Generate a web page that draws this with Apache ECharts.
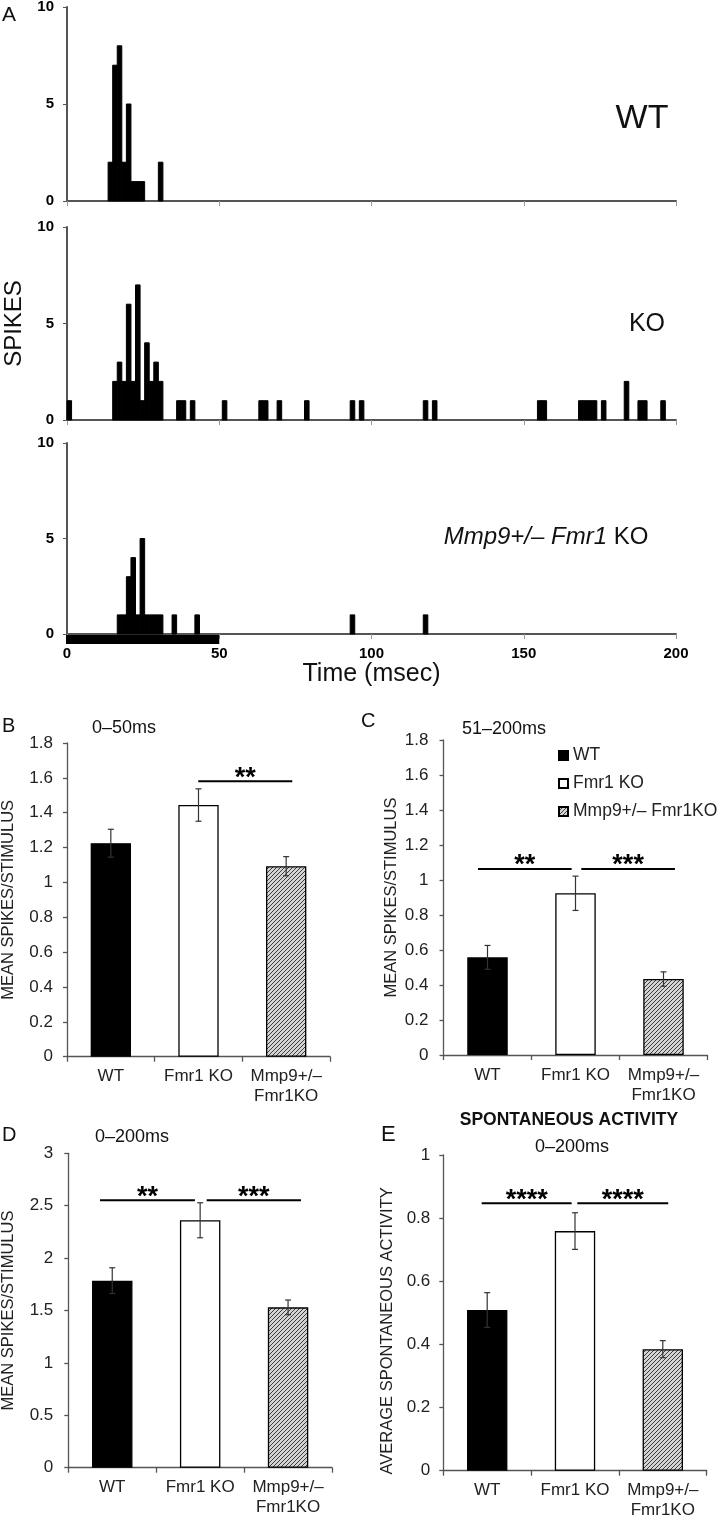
<!DOCTYPE html>
<html lang="en">
<head>
<meta charset="UTF-8">
<title>Spike histograms and mean spikes per stimulus</title>
<script src="https://cdn.jsdelivr.net/npm/echarts@6/dist/echarts.min.js"></script>
<style>html,body{margin:0;padding:0;background:#fff;}</style>
</head>
<body>
<div id="main" style="width:720px;height:1518px;"></div>
<script>
// PSTH bins, [bin start (ms), spikes]
const binWidth = 1.5;
const wtSpikes = [[13.5, 2], [15, 7], [16.5, 8], [18, 2], [19.5, 5], [21, 1], [22.5, 1], [24, 1], [30, 2]];
const koSpikes = [[0, 1], [15, 2], [16.5, 3], [18, 2], [19.5, 6], [21, 2], [22.5, 7], [24, 1], [25.5, 4],
  [27, 2], [28.5, 3], [30, 2], [36, 1], [37.5, 1], [40.5, 1], [51, 1], [63, 1], [64.5, 1], [69, 1],
  [78, 1], [93, 1], [96, 1], [117, 1], [120, 1], [154.5, 1], [156, 1], [168, 1], [169.5, 1], [171, 1],
  [172.5, 1], [175.5, 1], [183, 2], [187.5, 1], [189, 1], [195, 1]];
const mmpSpikes = [[16.5, 1], [18, 1], [19.5, 3], [21, 4], [22.5, 1], [24, 5], [25.5, 1], [27, 1],
  [28.5, 1], [30, 1], [34.5, 1], [42, 1], [93, 1], [117, 1]];
const stimulus = [[0, 50]];

// bar panels
const groups = ['WT', 'Fmr1 KO', 'Mmp9+/–\nFmr1KO'];
const legendNames = ['WT', 'Fmr1 KO', 'Mmp9+/– Fmr1KO'];
const earlyMean = [1.225, 1.444, 1.093];
const earlyErr = [0.08, 0.093, 0.055];
const lateMean = [0.558, 0.924, 0.434];
const lateErr = [0.068, 0.098, 0.041];
const totalMean = [1.785, 2.361, 1.53];
const totalErr = [0.123, 0.167, 0.07];
const spontMean = [0.509, 0.759, 0.385];
const spontErr = [0.055, 0.058, 0.027];
// significance bars: [from, to (category units), level, stars]
const earlySig = [[0.997, 2.07, 1.58, '**']];
const lateSig = [[-0.108, 0.956, 1.063, '**'], [1.066, 2.13, 1.063, '***']];
const totalSig = [[-0.139, 0.941, 2.551, '**'], [1.074, 2.147, 2.551, '***']];
const spontSig = [[-0.063, 0.962, 0.847, '****'], [1.026, 2.062, 0.847, '****']];

const FONT = 'Arial, "Liberation Sans", Helvetica, sans-serif';
const AXIS = '#555';

function hatch() {
  const c = document.createElement('canvas');
  c.width = 4; c.height = 4;
  const g = c.getContext('2d');
  g.fillStyle = '#d4d4d4';
  g.fillRect(0, 0, 4, 4);
  g.strokeStyle = '#3c3c3c';
  g.lineWidth = 1;
  g.beginPath();
  g.moveTo(0, 4); g.lineTo(4, 0);
  g.moveTo(-1, 1); g.lineTo(1, -1);
  g.moveTo(3, 5); g.lineTo(5, 3);
  g.stroke();
  return c;
}
const fills = ['#000', '#fff', { image: hatch(), repeat: 'repeat' }];

let myChart = echarts.init(document.getElementById('main'));

const grid = [], xAxis = [], yAxis = [], series = [];

// ---- panel A: three histograms ----
const histGrids = [
  { top: 7, height: 194, data: wtSpikes },
  { top: 227, height: 193, data: koSpikes },
  { top: 443, height: 191, data: mmpSpikes }
];
histGrids.forEach((h, k) => {
  grid.push({ left: 67, width: 609, top: h.top, height: h.height, outerBoundsMode: 'none' });
  xAxis.push({
    type: 'value', gridIndex: k, min: 0, max: 200, interval: 50,
    axisLine: { show: true, onZero: false, lineStyle: { color: AXIS, width: 2 } },
    axisTick: { show: true, length: 5, lineStyle: { color: '#999' } },
    axisLabel: { show: k === 2, fontWeight: 'bold', fontSize: 15, color: '#000', fontFamily: FONT, margin: 12 },
    splitLine: { show: false },
    name: k === 2 ? 'Time (msec)' : '',
    nameLocation: 'middle', nameGap: 28,
    nameTextStyle: { fontSize: 25, color: '#111', fontFamily: FONT }
  });
  yAxis.push({
    type: 'value', gridIndex: k, min: 0, max: 10, interval: 5,
    axisLine: { show: true, onZero: false, lineStyle: { color: AXIS, width: 2 } },
    axisTick: { show: true, length: 4, lineStyle: { color: AXIS } },
    axisLabel: { fontWeight: 'bold', fontSize: 15, color: '#000', fontFamily: FONT, margin: 13 },
    splitLine: { show: false },
    name: k === 1 ? 'SPIKES' : '',
    nameLocation: 'middle', nameGap: 40,
    nameTextStyle: { fontSize: 24, color: '#111', fontFamily: FONT }
  });
  series.push({
    type: 'custom', xAxisIndex: k, yAxisIndex: k, data: h.data, silent: true,
    renderItem: (params, api) => {
      const t = api.value(0), n = api.value(1);
      const p0 = api.coord([t, 0]), p1 = api.coord([t + binWidth, n]);
      return {
        type: 'rect',
        shape: { x: p0[0], y: p1[1], width: p1[0] - p0[0], height: p0[1] - p1[1] },
        style: { fill: '#000', stroke: '#000', lineWidth: 1 }
      };
    }
  });
});
// stimulus bar under the last histogram
series.push({
  type: 'custom', xAxisIndex: 2, yAxisIndex: 2, data: stimulus, clip: false, silent: true,
  renderItem: (params, api) => {
    const a = api.coord([api.value(0), 0]), b = api.coord([api.value(1), 0]);
    return { type: 'rect', shape: { x: a[0] - 1, y: a[1] + 1, width: b[0] - a[0] + 1, height: 9 }, style: { fill: '#000' } };
  }
});

// ---- panels B-E: bar charts ----
const panels = [
  { left: 67, top: 743, width: 263, height: 313.7, max: 1.8, interval: 0.2, mean: earlyMean, err: earlyErr, sig: earlySig,
    name: 'MEAN SPIKES/STIMULUS', nameGap: 50, namePad: [0, 0, 0, 0], labelMargin: 14 },
  { left: 443.5, top: 740, width: 264, height: 315, max: 1.8, interval: 0.2, mean: lateMean, err: lateErr, sig: lateSig,
    name: 'MEAN SPIKES/STIMULUS', nameGap: 44, namePad: [0, 0, 0, 0], labelMargin: 15 },
  { left: 68.3, top: 1153.3, width: 263.7, height: 314.4, max: 3, interval: 0.5, mean: totalMean, err: totalErr, sig: totalSig,
    name: 'MEAN SPIKES/STIMULUS', nameGap: 51, namePad: [0, 0, 0, 0], labelMargin: 15 },
  { left: 443.3, top: 1155, width: 263.4, height: 315.7, max: 1, interval: 0.2, mean: spontMean, err: spontErr, sig: spontSig,
    name: 'AVERAGE SPONTANEOUS ACTIVITY', nameGap: 47, namePad: [0, 36, 0, 0], labelMargin: 13 }
];
panels.forEach((p, i) => {
  const g = grid.length;
  grid.push({ left: p.left, top: p.top, width: p.width, height: p.height, outerBoundsMode: 'none' });
  const cat = xAxis.length;
  xAxis.push({
    type: 'category', gridIndex: g, data: groups,
    axisLine: { onZero: false, lineStyle: { color: AXIS, width: 1.3 } },
    axisTick: { show: true, length: 5, lineStyle: { color: AXIS, width: 1.3 } },
    axisLabel: { interval: 0, fontSize: 17, lineHeight: 20, color: '#222', fontFamily: FONT, margin: 10 }
  });
  const val = xAxis.length;
  xAxis.push({ type: 'value', gridIndex: g, min: -0.5, max: 2.5, show: false });
  const y = yAxis.length;
  yAxis.push({
    type: 'value', gridIndex: g, min: 0, max: p.max, interval: p.interval,
    axisLine: { show: true, onZero: false, lineStyle: { color: AXIS, width: 1.3 } },
    axisTick: { show: true, length: 4, lineStyle: { color: AXIS, width: 1.3 } },
    axisLabel: { fontSize: 17, color: '#222', fontFamily: FONT, margin: p.labelMargin },
    splitLine: { show: false },
    name: p.name, nameLocation: 'middle', nameGap: p.nameGap,
    nameTextStyle: { fontSize: 16.5, color: '#222', fontFamily: FONT, padding: p.namePad }
  });
  legendNames.forEach((nm, j) => {
    series.push({
      type: 'bar', name: nm, xAxisIndex: cat, yAxisIndex: y, silent: true,
      data: p.mean.map((v, c) => (c === j ? v : '-')),
      barWidth: '46%', barGap: '-100%',
      itemStyle: { color: fills[j], borderColor: '#000', borderWidth: 1.3 }
    });
  });
  // error bars
  series.push({
    type: 'custom', xAxisIndex: val, yAxisIndex: y, z: 5, silent: true,
    data: p.mean.map((m, c) => [c, m, p.err[c]]),
    renderItem: (params, api) => {
      const x = api.value(0), m = api.value(1), e = api.value(2);
      const t = api.coord([x, m + e]), b = api.coord([x, m - e]);
      const st = { stroke: '#333', lineWidth: 1.2 };
      return {
        type: 'group', children: [
          { type: 'line', shape: { x1: t[0], y1: t[1], x2: b[0], y2: b[1] }, style: st },
          { type: 'line', shape: { x1: t[0] - 3, y1: t[1], x2: t[0] + 3, y2: t[1] }, style: st },
          { type: 'line', shape: { x1: b[0] - 3, y1: b[1], x2: b[0] + 3, y2: b[1] }, style: st }
        ]
      };
    }
  });
  // significance lines
  series.push({
    type: 'custom', xAxisIndex: val, yAxisIndex: y, z: 6, clip: false, silent: true,
    data: p.sig.map(s => [s[0], s[1], s[2]]),
    renderItem: (params, api) => {
      const a = api.coord([api.value(0), api.value(2)]), b = api.coord([api.value(1), api.value(2)]);
      const stars = p.sig[params.dataIndex][3];
      return {
        type: 'group', children: [
          { type: 'line', shape: { x1: a[0], y1: a[1], x2: b[0], y2: b[1] }, style: { stroke: '#000', lineWidth: 2 } },
          { type: 'text', x: (a[0] + b[0]) / 2, y: a[1] - 3,
            style: { text: stars, fill: '#000', font: 'bold 27px ' + FONT, align: 'center', verticalAlign: 'middle' } }
        ]
      };
    }
  });
});

function txt(text, x, y, size, extra) {
  return {
    type: 'text', x: x, y: y, silent: true,
    style: Object.assign({ text: text, fill: '#111', fontSize: size, fontFamily: FONT, align: 'left', verticalAlign: 'middle' }, extra || {})
  };
}

const graphic = [
  txt('A', 2, 15, 21),
  txt('WT', 642, 119, 34, { align: 'center' }),
  txt('KO', 647, 324, 25, { align: 'center' }),
  {
    type: 'text', x: 546, y: 537, silent: true,
    style: {
      text: '{i|Mmp9+/– Fmr1} KO', fill: '#111', fontSize: 24, fontFamily: FONT, align: 'center', verticalAlign: 'middle',
      rich: { i: { fontStyle: 'italic', fontSize: 24, fontFamily: FONT, fill: '#111' } }
    }
  },
  txt('B', 2, 726, 20),
  txt('0–50ms', 92, 728, 18),
  txt('C', 361, 721, 20),
  txt('51–200ms', 462, 729, 18),
  txt('D', 2, 1135, 20),
  txt('0–200ms', 95, 1137, 18),
  txt('E', 381, 1135, 22),
  txt('SPONTANEOUS ACTIVITY', 569, 1120, 17.5, { align: 'center', fontWeight: 'bold' }),
  txt('0–200ms', 572, 1147, 18, { align: 'center' })
];

let options = {
  animation: false,
  backgroundColor: '#fff',
  textStyle: { fontFamily: FONT },
  grid: grid,
  xAxis: xAxis,
  yAxis: yAxis,
  legend: {
    data: legendNames, orient: 'vertical', left: 558, top: 746, padding: 0,
    itemWidth: 9, itemHeight: 9, itemGap: 9, icon: 'rect', selectedMode: false,
    textStyle: { fontSize: 17.5, lineHeight: 19, color: '#222', fontFamily: FONT }
  },
  graphic: graphic,
  series: series
};

myChart.setOption(options);
</script>
</body>
</html>
